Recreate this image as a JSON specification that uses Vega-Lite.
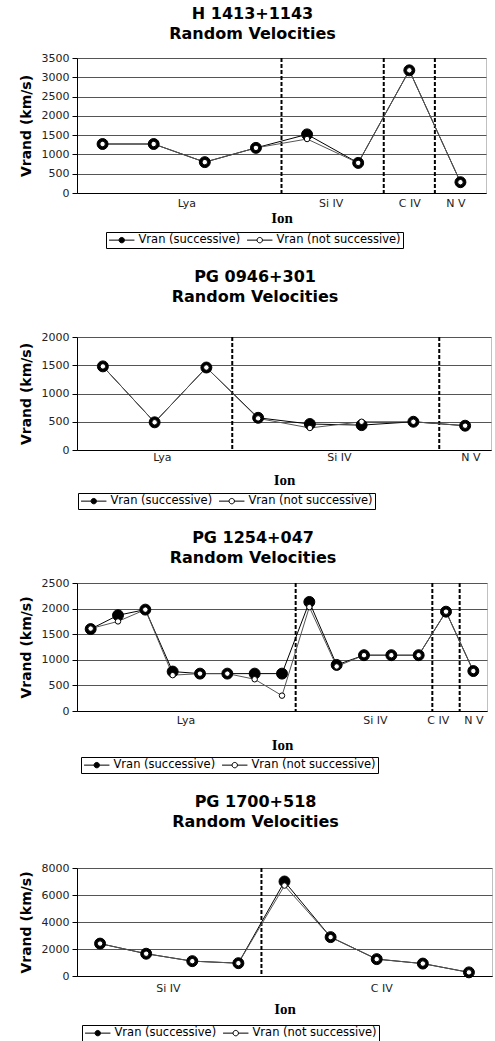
{
  "$schema": "https://vega.github.io/schema/vega-lite/v6.json",
  "background": "white",
  "padding": {"left": 18, "top": 5, "right": 0, "bottom": 0},
  "spacing": 19,
  "datasets": {
    "p1": [
      {"i": 1, "series": "Vran (successive)", "v": 1270},
      {"i": 2, "series": "Vran (successive)", "v": 1270},
      {"i": 3, "series": "Vran (successive)", "v": 800},
      {"i": 4, "series": "Vran (successive)", "v": 1170},
      {"i": 5, "series": "Vran (successive)", "v": 1520},
      {"i": 6, "series": "Vran (successive)", "v": 780},
      {"i": 7, "series": "Vran (successive)", "v": 3180},
      {"i": 8, "series": "Vran (successive)", "v": 280},
      {"i": 1, "series": "Vran (not successive)", "v": 1270},
      {"i": 2, "series": "Vran (not successive)", "v": 1270},
      {"i": 3, "series": "Vran (not successive)", "v": 800},
      {"i": 4, "series": "Vran (not successive)", "v": 1170},
      {"i": 5, "series": "Vran (not successive)", "v": 1400},
      {"i": 6, "series": "Vran (not successive)", "v": 780},
      {"i": 7, "series": "Vran (not successive)", "v": 3180},
      {"i": 8, "series": "Vran (not successive)", "v": 280}
    ],
    "b1": [{"i": 4.5}, {"i": 6.5}, {"i": 7.5}],
    "p2": [
      {"i": 1, "series": "Vran (successive)", "v": 1480},
      {"i": 2, "series": "Vran (successive)", "v": 490},
      {"i": 3, "series": "Vran (successive)", "v": 1460},
      {"i": 4, "series": "Vran (successive)", "v": 570},
      {"i": 5, "series": "Vran (successive)", "v": 460},
      {"i": 6, "series": "Vran (successive)", "v": 440},
      {"i": 7, "series": "Vran (successive)", "v": 500},
      {"i": 8, "series": "Vran (successive)", "v": 430},
      {"i": 1, "series": "Vran (not successive)", "v": 1480},
      {"i": 2, "series": "Vran (not successive)", "v": 490},
      {"i": 3, "series": "Vran (not successive)", "v": 1460},
      {"i": 4, "series": "Vran (not successive)", "v": 560},
      {"i": 5, "series": "Vran (not successive)", "v": 390},
      {"i": 6, "series": "Vran (not successive)", "v": 500},
      {"i": 7, "series": "Vran (not successive)", "v": 500},
      {"i": 8, "series": "Vran (not successive)", "v": 430}
    ],
    "b2": [{"i": 3.5}, {"i": 7.5}],
    "p3": [
      {"i": 1, "series": "Vran (successive)", "v": 1600},
      {"i": 2, "series": "Vran (successive)", "v": 1870},
      {"i": 3, "series": "Vran (successive)", "v": 1980},
      {"i": 4, "series": "Vran (successive)", "v": 770},
      {"i": 5, "series": "Vran (successive)", "v": 730},
      {"i": 6, "series": "Vran (successive)", "v": 730},
      {"i": 7, "series": "Vran (successive)", "v": 730},
      {"i": 8, "series": "Vran (successive)", "v": 730},
      {"i": 9, "series": "Vran (successive)", "v": 2130},
      {"i": 10, "series": "Vran (successive)", "v": 900},
      {"i": 11, "series": "Vran (successive)", "v": 1090},
      {"i": 12, "series": "Vran (successive)", "v": 1090},
      {"i": 13, "series": "Vran (successive)", "v": 1090},
      {"i": 14, "series": "Vran (successive)", "v": 1940},
      {"i": 15, "series": "Vran (successive)", "v": 780},
      {"i": 1, "series": "Vran (not successive)", "v": 1610},
      {"i": 2, "series": "Vran (not successive)", "v": 1750},
      {"i": 3, "series": "Vran (not successive)", "v": 1980},
      {"i": 4, "series": "Vran (not successive)", "v": 700},
      {"i": 5, "series": "Vran (not successive)", "v": 730},
      {"i": 6, "series": "Vran (not successive)", "v": 730},
      {"i": 7, "series": "Vran (not successive)", "v": 620},
      {"i": 8, "series": "Vran (not successive)", "v": 300},
      {"i": 9, "series": "Vran (not successive)", "v": 2030},
      {"i": 10, "series": "Vran (not successive)", "v": 870},
      {"i": 11, "series": "Vran (not successive)", "v": 1090},
      {"i": 12, "series": "Vran (not successive)", "v": 1090},
      {"i": 13, "series": "Vran (not successive)", "v": 1090},
      {"i": 14, "series": "Vran (not successive)", "v": 1940},
      {"i": 15, "series": "Vran (not successive)", "v": 780}
    ],
    "b3": [{"i": 8.5}, {"i": 13.5}, {"i": 14.5}],
    "p4": [
      {"i": 1, "series": "Vran (successive)", "v": 2400},
      {"i": 2, "series": "Vran (successive)", "v": 1650},
      {"i": 3, "series": "Vran (successive)", "v": 1100},
      {"i": 4, "series": "Vran (successive)", "v": 950},
      {"i": 5, "series": "Vran (successive)", "v": 7000},
      {"i": 6, "series": "Vran (successive)", "v": 2880},
      {"i": 7, "series": "Vran (successive)", "v": 1250},
      {"i": 8, "series": "Vran (successive)", "v": 920},
      {"i": 9, "series": "Vran (successive)", "v": 270},
      {"i": 1, "series": "Vran (not successive)", "v": 2400},
      {"i": 2, "series": "Vran (not successive)", "v": 1650},
      {"i": 3, "series": "Vran (not successive)", "v": 1100},
      {"i": 4, "series": "Vran (not successive)", "v": 950},
      {"i": 5, "series": "Vran (not successive)", "v": 6700},
      {"i": 6, "series": "Vran (not successive)", "v": 2880},
      {"i": 7, "series": "Vran (not successive)", "v": 1250},
      {"i": 8, "series": "Vran (not successive)", "v": 920},
      {"i": 9, "series": "Vran (not successive)", "v": 270}
    ],
    "b4": [{"i": 4.5}]
  },
  "vconcat": [
    {
      "width": 409, "height": 135,
      "title": {"text": ["H 1413+1143", "Random Velocities"], "offset": 10},
      "data": {"name": "p1"},
      "encoding": {
        "x": {"field": "i", "type": "quantitative", "scale": {"domain": [0.5, 8.5]},
          "axis": {"title": "Ion", "values": [2.64, 5.46, 7, 7.9], "labelPadding": 4, "titlePadding": 2,
            "labelExpr": "datum.value < 4 ? 'Lya' : datum.value < 6.5 ? 'Si IV' : datum.value < 7.5 ? 'C IV' : 'N V'"}}
      },
      "layer": [
        {"data": {"name": "b1"}, "mark": {"type": "rule", "color": "black", "strokeWidth": 2, "strokeDash": [4, 2]}, "encoding": {}},
        {"mark": {"type": "line", "strokeWidth": 1},
          "encoding": {
            "y": {"field": "v", "type": "quantitative", "scale": {"domain": [0, 3500]}, "axis": {"title": "Vrand (km/s)", "format": "d", "values": [0, 500, 1000, 1500, 2000, 2500, 3000, 3500]}},
            "stroke": {"field": "series", "type": "nominal", "scale": {"domain": ["Vran (not successive)", "Vran (successive)"], "range": ["#555555", "black"]}, "legend": null}
          }},
        {"mark": {"type": "point", "filled": true, "stroke": "black", "strokeWidth": 1, "opacity": 1},
          "encoding": {
            "y": {"field": "v", "type": "quantitative", "scale": {"domain": [0, 3500]}, "axis": {"title": "Vrand (km/s)", "format": "d", "values": [0, 500, 1000, 1500, 2000, 2500, 3000, 3500]}},
            "fill": {"field": "series", "type": "nominal", "scale": {"domain": ["Vran (successive)", "Vran (not successive)"], "range": ["black", "white"]},
              "legend": {"title": null, "orient": "none", "legendX": 29, "legendY": 174}},
            "size": {"field": "series", "type": "ordinal", "scale": {"domain": ["Vran (not successive)", "Vran (successive)"], "range": [30, 120]}, "legend": null}
          }}
      ]
    },
    {
      "width": 414, "height": 113,
      "title": {"text": ["PG 0946+301", "Random Velocities"], "offset": 26},
      "data": {"name": "p2"},
      "encoding": {
        "x": {"field": "i", "type": "quantitative", "scale": {"domain": [0.5, 8.5]},
          "axis": {"title": "Ion", "values": [2.14, 5.56, 8.1], "labelPadding": 1, "titlePadding": 10,
            "labelExpr": "datum.value < 3.5 ? 'Lya' : datum.value < 7.5 ? 'Si IV' : 'N V'"}}
      },
      "layer": [
        {"data": {"name": "b2"}, "mark": {"type": "rule", "color": "black", "strokeWidth": 2, "strokeDash": [4, 2]}, "encoding": {}},
        {"mark": {"type": "line", "strokeWidth": 1},
          "encoding": {
            "y": {"field": "v", "type": "quantitative", "scale": {"domain": [0, 2000]}, "axis": {"title": "Vrand (km/s)", "format": "d", "values": [0, 500, 1000, 1500, 2000]}},
            "stroke": {"field": "series", "type": "nominal", "scale": {"domain": ["Vran (not successive)", "Vran (successive)"], "range": ["#555555", "black"]}, "legend": null}
          }},
        {"mark": {"type": "point", "filled": true, "stroke": "black", "strokeWidth": 1, "opacity": 1},
          "encoding": {
            "y": {"field": "v", "type": "quantitative", "scale": {"domain": [0, 2000]}, "axis": {"title": "Vrand (km/s)", "format": "d", "values": [0, 500, 1000, 1500, 2000]}},
            "fill": {"field": "series", "type": "nominal", "scale": {"domain": ["Vran (successive)", "Vran (not successive)"], "range": ["black", "white"]},
              "legend": {"title": null, "orient": "none", "legendX": 1, "legendY": 156}},
            "size": {"field": "series", "type": "ordinal", "scale": {"domain": ["Vran (not successive)", "Vran (successive)"], "range": [30, 120]}, "legend": null}
          }}
      ]
    },
    {
      "width": 410, "height": 128,
      "title": {"text": ["PG 1254+047", "Random Velocities"], "offset": 11},
      "data": {"name": "p3"},
      "encoding": {
        "x": {"field": "i", "type": "quantitative", "scale": {"domain": [0.5, 15.5]},
          "axis": {"title": "Ion", "values": [4.47, 11.4, 13.7, 15], "labelPadding": 3, "titlePadding": 12,
            "labelExpr": "datum.value < 8.5 ? 'Lya' : datum.value < 13.5 ? 'Si IV' : datum.value < 14.5 ? 'C IV' : 'N V'"}}
      },
      "layer": [
        {"data": {"name": "b3"}, "mark": {"type": "rule", "color": "black", "strokeWidth": 2, "strokeDash": [4, 2]}, "encoding": {}},
        {"mark": {"type": "line", "strokeWidth": 1},
          "encoding": {
            "y": {"field": "v", "type": "quantitative", "scale": {"domain": [0, 2500]}, "axis": {"title": "Vrand (km/s)", "format": "d", "values": [0, 500, 1000, 1500, 2000, 2500]}},
            "stroke": {"field": "series", "type": "nominal", "scale": {"domain": ["Vran (not successive)", "Vran (successive)"], "range": ["#555555", "black"]}, "legend": null}
          }},
        {"mark": {"type": "point", "filled": true, "stroke": "black", "strokeWidth": 1, "opacity": 1},
          "encoding": {
            "y": {"field": "v", "type": "quantitative", "scale": {"domain": [0, 2500]}, "axis": {"title": "Vrand (km/s)", "format": "d", "values": [0, 500, 1000, 1500, 2000, 2500]}},
            "fill": {"field": "series", "type": "nominal", "scale": {"domain": ["Vran (successive)", "Vran (not successive)"], "range": ["black", "white"]},
              "legend": {"title": null, "orient": "none", "legendX": 4, "legendY": 174}},
            "size": {"field": "series", "type": "ordinal", "scale": {"domain": ["Vran (not successive)", "Vran (successive)"], "range": [30, 120]}, "legend": null}
          }}
      ]
    },
    {
      "width": 415, "height": 108,
      "title": {"text": ["PG 1700+518", "Random Velocities"], "offset": 32},
      "data": {"name": "p4"},
      "encoding": {
        "x": {"field": "i", "type": "quantitative", "scale": {"domain": [0.5, 9.5]},
          "axis": {"title": "Ion", "values": [2.47, 7.1], "labelPadding": 6, "titlePadding": 8,
            "labelExpr": "datum.value < 4.5 ? 'Si IV' : 'C IV'"}}
      },
      "layer": [
        {"data": {"name": "b4"}, "mark": {"type": "rule", "color": "black", "strokeWidth": 2, "strokeDash": [4, 2]}, "encoding": {}},
        {"mark": {"type": "line", "strokeWidth": 1},
          "encoding": {
            "y": {"field": "v", "type": "quantitative", "scale": {"domain": [0, 8000]}, "axis": {"title": "Vrand (km/s)", "format": "d", "values": [0, 2000, 4000, 6000, 8000]}},
            "stroke": {"field": "series", "type": "nominal", "scale": {"domain": ["Vran (not successive)", "Vran (successive)"], "range": ["#555555", "black"]}, "legend": null}
          }},
        {"mark": {"type": "point", "filled": true, "stroke": "black", "strokeWidth": 1, "opacity": 1},
          "encoding": {
            "y": {"field": "v", "type": "quantitative", "scale": {"domain": [0, 8000]}, "axis": {"title": "Vrand (km/s)", "format": "d", "values": [0, 2000, 4000, 6000, 8000]}},
            "fill": {"field": "series", "type": "nominal", "scale": {"domain": ["Vran (successive)", "Vran (not successive)"], "range": ["black", "white"]},
              "legend": {"title": null, "orient": "none", "legendX": 5, "legendY": 157}},
            "size": {"field": "series", "type": "ordinal", "scale": {"domain": ["Vran (not successive)", "Vran (successive)"], "range": [30, 120]}, "legend": null}
          }}
      ]
    }
  ],
  "resolve": {"scale": {"x": "independent", "y": "independent", "fill": "independent", "size": "independent", "stroke": "independent"}},
  "config": {
    "font": "DejaVu Sans",
    "view": {"stroke": "#c0c0c0"},
    "title": {"font": "DejaVu Sans", "fontSize": 16, "fontWeight": "bold", "color": "black", "lineHeight": 20, "anchor": "middle", "frame": "bounds"},
    "axis": {"labelFont": "DejaVu Sans", "labelFontSize": 11, "labelColor": "#222222", "domainColor": "black", "domainWidth": 1, "tickColor": "black", "titleColor": "black"},
    "axisY": {"grid": true, "gridColor": "#555555", "gridWidth": 1, "tickSize": 5, "labelPadding": 3, "titleFont": "DejaVu Sans", "titleFontSize": 14, "titleFontWeight": "bold", "titlePadding": 8},
    "axisX": {"grid": false, "ticks": false, "labelAngle": 0, "titleFont": "Liberation Serif", "titleFontSize": 15, "titleFontWeight": "bold"},
    "legend": {
      "direction": "horizontal",
      "strokeColor": "black", "padding": 2,
      "symbolType": "M-4.23,0L-0.9,0M0.9,0L4.23,0M0.9,0A0.9,0.9,0,1,1,-0.9,0A0.9,0.9,0,1,1,0.9,0Z",
      "symbolSize": 36, "symbolStrokeColor": "black", "symbolStrokeWidth": 1, "symbolOffset": 8,
      "labelFont": "DejaVu Sans", "labelFontSize": 11.5, "labelColor": "black", "labelOffset": 11, "columnPadding": 4
    }
  }
}
